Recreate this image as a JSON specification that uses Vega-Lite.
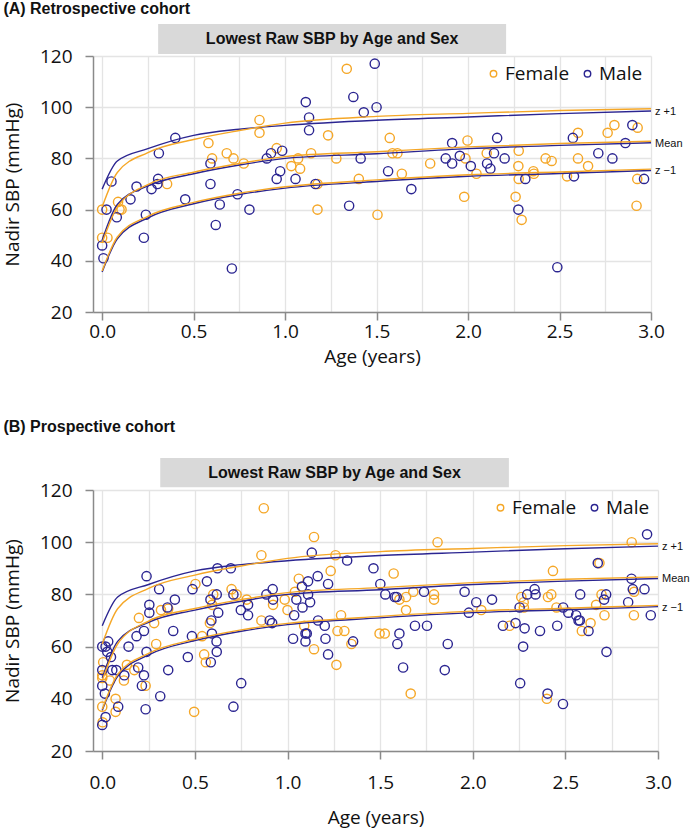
{
  "$schema": "https://vega.github.io/schema/vega-lite/v6.json",
  "background": "white",
  "padding": {"left": 3, "top": 1, "right": 0, "bottom": 8},
  "spacing": 52,
  "config": {
    "font": "Open Sans",
    "view": {"stroke": null},
    "axis": {"domainColor": "#8a8a8a", "domainWidth": 1.5, "tickColor": "#8a8a8a", "tickWidth": 1.5, "tickSize": 8, "labelFontSize": 19, "labelColor": "#111", "titleFontSize": 19, "titleFontWeight": "normal", "titleColor": "#111", "gridColor": "#e4e4e4", "gridWidth": 1.3, "labelFont": "Open Sans", "titleFont": "Open Sans"},
    "title": {"font": "Liberation Sans", "fontSize": 16, "fontWeight": "bold", "anchor": "start", "frame": "bounds", "color": "#111", "offset": 7},
    "legend": {"orient": "top-right", "direction": "horizontal", "labelFontSize": 19, "labelFont": "Open Sans", "labelColor": "#111", "symbolSize": 42, "symbolStrokeWidth": 1.4, "symbolType": "circle", "offset": 8, "columnPadding": 8, "labelOffset": 2, "padding": 0}
  },
  "resolve": {"legend": {"color": "independent"}},
  "datasets": {
    "one": [{}],
    "curves": [
      {"age": 0, "sbp": 68, "sex": "Male", "curve": "z +1"},
      {"age": 0.083, "sbp": 79, "sex": "Male", "curve": "z +1"},
      {"age": 0.25, "sbp": 83.8, "sex": "Male", "curve": "z +1"},
      {"age": 0.5, "sbp": 89, "sex": "Male", "curve": "z +1"},
      {"age": 0.75, "sbp": 91.4, "sex": "Male", "curve": "z +1"},
      {"age": 1, "sbp": 92.9, "sex": "Male", "curve": "z +1"},
      {"age": 1.5, "sbp": 94.9, "sex": "Male", "curve": "z +1"},
      {"age": 2, "sbp": 96.2, "sex": "Male", "curve": "z +1"},
      {"age": 2.5, "sbp": 97.5, "sex": "Male", "curve": "z +1"},
      {"age": 3, "sbp": 98.5, "sex": "Male", "curve": "z +1"},
      {"age": 0, "sbp": 61, "sex": "Female", "curve": "z +1"},
      {"age": 0.083, "sbp": 74.5, "sex": "Female", "curve": "z +1"},
      {"age": 0.25, "sbp": 82.3, "sex": "Female", "curve": "z +1"},
      {"age": 0.5, "sbp": 87.4, "sex": "Female", "curve": "z +1"},
      {"age": 0.75, "sbp": 90.9, "sex": "Female", "curve": "z +1"},
      {"age": 1, "sbp": 93.8, "sex": "Female", "curve": "z +1"},
      {"age": 1.5, "sbp": 96.4, "sex": "Female", "curve": "z +1"},
      {"age": 2, "sbp": 97.6, "sex": "Female", "curve": "z +1"},
      {"age": 2.5, "sbp": 98.7, "sex": "Female", "curve": "z +1"},
      {"age": 3, "sbp": 99.4, "sex": "Female", "curve": "z +1"},
      {"age": 0, "sbp": 48, "sex": "Male", "curve": "Mean"},
      {"age": 0.083, "sbp": 62, "sex": "Male", "curve": "Mean"},
      {"age": 0.25, "sbp": 69.3, "sex": "Male", "curve": "Mean"},
      {"age": 0.5, "sbp": 74, "sex": "Male", "curve": "Mean"},
      {"age": 0.75, "sbp": 77.4, "sex": "Male", "curve": "Mean"},
      {"age": 1, "sbp": 80, "sex": "Male", "curve": "Mean"},
      {"age": 1.5, "sbp": 81.8, "sex": "Male", "curve": "Mean"},
      {"age": 2, "sbp": 83.8, "sex": "Male", "curve": "Mean"},
      {"age": 2.5, "sbp": 85.1, "sex": "Male", "curve": "Mean"},
      {"age": 3, "sbp": 86.1, "sex": "Male", "curve": "Mean"},
      {"age": 0, "sbp": 47, "sex": "Female", "curve": "Mean"},
      {"age": 0.083, "sbp": 61, "sex": "Female", "curve": "Mean"},
      {"age": 0.25, "sbp": 69.8, "sex": "Female", "curve": "Mean"},
      {"age": 0.5, "sbp": 74.6, "sex": "Female", "curve": "Mean"},
      {"age": 0.75, "sbp": 78, "sex": "Female", "curve": "Mean"},
      {"age": 1, "sbp": 80.7, "sex": "Female", "curve": "Mean"},
      {"age": 1.5, "sbp": 82.6, "sex": "Female", "curve": "Mean"},
      {"age": 2, "sbp": 84.5, "sex": "Female", "curve": "Mean"},
      {"age": 2.5, "sbp": 85.8, "sex": "Female", "curve": "Mean"},
      {"age": 3, "sbp": 86.7, "sex": "Female", "curve": "Mean"},
      {"age": 0, "sbp": 35.6, "sex": "Male", "curve": "z −1"},
      {"age": 0.083, "sbp": 48.6, "sex": "Male", "curve": "z −1"},
      {"age": 0.25, "sbp": 56.8, "sex": "Male", "curve": "z −1"},
      {"age": 0.5, "sbp": 62.3, "sex": "Male", "curve": "z −1"},
      {"age": 0.75, "sbp": 65.9, "sex": "Male", "curve": "z −1"},
      {"age": 1, "sbp": 68.4, "sex": "Male", "curve": "z −1"},
      {"age": 1.5, "sbp": 71, "sex": "Male", "curve": "z −1"},
      {"age": 2, "sbp": 73, "sex": "Male", "curve": "z −1"},
      {"age": 2.5, "sbp": 74.1, "sex": "Male", "curve": "z −1"},
      {"age": 3, "sbp": 75.3, "sex": "Male", "curve": "z −1"},
      {"age": 0, "sbp": 36, "sex": "Female", "curve": "z −1"},
      {"age": 0.083, "sbp": 49.3, "sex": "Female", "curve": "z −1"},
      {"age": 0.25, "sbp": 57.4, "sex": "Female", "curve": "z −1"},
      {"age": 0.5, "sbp": 62.8, "sex": "Female", "curve": "z −1"},
      {"age": 0.75, "sbp": 66.4, "sex": "Female", "curve": "z −1"},
      {"age": 1, "sbp": 68.9, "sex": "Female", "curve": "z −1"},
      {"age": 1.5, "sbp": 71.6, "sex": "Female", "curve": "z −1"},
      {"age": 2, "sbp": 73.6, "sex": "Female", "curve": "z −1"},
      {"age": 2.5, "sbp": 74.7, "sex": "Female", "curve": "z −1"},
      {"age": 3, "sbp": 75.8, "sex": "Female", "curve": "z −1"}
    ],
    "ptsA": [
      {"age": 0, "sbp": 60, "sex": "Female"}, {"age": 0, "sbp": 49, "sex": "Female"}, {"age": 0.029, "sbp": 49, "sex": "Female"}, {"age": 0.087, "sbp": 63, "sex": "Female"}, {"age": 0.095, "sbp": 60, "sex": "Female"}, {"age": 0.106, "sbp": 60, "sex": "Female"}, {"age": 0.355, "sbp": 70, "sex": "Female"}, {"age": 0.581, "sbp": 86, "sex": "Female"}, {"age": 0.601, "sbp": 80, "sex": "Female"}, {"age": 0.681, "sbp": 82, "sex": "Female"}, {"age": 0.718, "sbp": 80, "sex": "Female"}, {"age": 0.774, "sbp": 78, "sex": "Female"}, {"age": 0.86, "sbp": 95, "sex": "Female"}, {"age": 0.86, "sbp": 90, "sex": "Female"}, {"age": 0.954, "sbp": 84, "sex": "Female"}, {"age": 1.034, "sbp": 77, "sex": "Female"}, {"age": 1.071, "sbp": 80, "sex": "Female"}, {"age": 1.082, "sbp": 76, "sex": "Female"}, {"age": 1.142, "sbp": 82, "sex": "Female"}, {"age": 1.177, "sbp": 70, "sex": "Female"}, {"age": 1.177, "sbp": 60, "sex": "Female"}, {"age": 1.235, "sbp": 89, "sex": "Female"}, {"age": 1.28, "sbp": 80, "sex": "Female"}, {"age": 1.337, "sbp": 115, "sex": "Female"}, {"age": 1.403, "sbp": 72, "sex": "Female"}, {"age": 1.505, "sbp": 58, "sex": "Female"}, {"age": 1.572, "sbp": 88, "sex": "Female"}, {"age": 1.587, "sbp": 82, "sex": "Female"}, {"age": 1.614, "sbp": 82, "sex": "Female"}, {"age": 1.638, "sbp": 74, "sex": "Female"}, {"age": 1.793, "sbp": 78, "sex": "Female"}, {"age": 1.979, "sbp": 65, "sex": "Female"}, {"age": 1.986, "sbp": 80, "sex": "Female"}, {"age": 1.997, "sbp": 87, "sex": "Female"}, {"age": 2.046, "sbp": 74, "sex": "Female"}, {"age": 2.102, "sbp": 82, "sex": "Female"}, {"age": 2.26, "sbp": 65, "sex": "Female"}, {"age": 2.277, "sbp": 83, "sex": "Female"}, {"age": 2.275, "sbp": 77, "sex": "Female"}, {"age": 2.277, "sbp": 72, "sex": "Female"}, {"age": 2.293, "sbp": 56, "sex": "Female"}, {"age": 2.357, "sbp": 75, "sex": "Female"}, {"age": 2.36, "sbp": 74, "sex": "Female"}, {"age": 2.424, "sbp": 80, "sex": "Female"}, {"age": 2.457, "sbp": 79, "sex": "Female"}, {"age": 2.541, "sbp": 73, "sex": "Female"}, {"age": 2.601, "sbp": 90, "sex": "Female"}, {"age": 2.601, "sbp": 80, "sex": "Female"}, {"age": 2.656, "sbp": 77, "sex": "Female"}, {"age": 2.763, "sbp": 90, "sex": "Female"}, {"age": 2.8, "sbp": 93, "sex": "Female"}, {"age": 2.927, "sbp": 92, "sex": "Female"}, {"age": 2.925, "sbp": 72, "sex": "Female"}, {"age": 2.921, "sbp": 61.5, "sex": "Female"},
      {"age": 0.051, "sbp": 71, "sex": "Male"}, {"age": 0.024, "sbp": 60, "sex": "Male"}, {"age": 0, "sbp": 46, "sex": "Male"}, {"age": 0.007, "sbp": 41, "sex": "Male"}, {"age": 0.08, "sbp": 57, "sex": "Male"}, {"age": 0.155, "sbp": 64, "sex": "Male"}, {"age": 0.188, "sbp": 69, "sex": "Male"}, {"age": 0.239, "sbp": 58, "sex": "Male"}, {"age": 0.228, "sbp": 49, "sex": "Male"}, {"age": 0.27, "sbp": 68, "sex": "Male"}, {"age": 0.302, "sbp": 70, "sex": "Male"}, {"age": 0.306, "sbp": 72, "sex": "Male"}, {"age": 0.31, "sbp": 82, "sex": "Male"}, {"age": 0.4, "sbp": 88, "sex": "Male"}, {"age": 0.454, "sbp": 64, "sex": "Male"}, {"age": 0.592, "sbp": 78, "sex": "Male"}, {"age": 0.592, "sbp": 70, "sex": "Male"}, {"age": 0.621, "sbp": 54, "sex": "Male"}, {"age": 0.643, "sbp": 62, "sex": "Male"}, {"age": 0.709, "sbp": 37, "sex": "Male"}, {"age": 0.74, "sbp": 66, "sex": "Male"}, {"age": 0.805, "sbp": 60, "sex": "Male"}, {"age": 0.9, "sbp": 80, "sex": "Male"}, {"age": 0.923, "sbp": 82, "sex": "Male"}, {"age": 0.954, "sbp": 72, "sex": "Male"}, {"age": 0.973, "sbp": 75, "sex": "Male"}, {"age": 0.984, "sbp": 83, "sex": "Male"}, {"age": 1.113, "sbp": 102, "sex": "Male"}, {"age": 1.131, "sbp": 96, "sex": "Male"}, {"age": 1.131, "sbp": 91, "sex": "Male"}, {"age": 1.057, "sbp": 72, "sex": "Male"}, {"age": 1.166, "sbp": 70, "sex": "Male"}, {"age": 1.35, "sbp": 61.5, "sex": "Male"}, {"age": 1.373, "sbp": 104, "sex": "Male"}, {"age": 1.413, "sbp": 80, "sex": "Male"}, {"age": 1.43, "sbp": 98, "sex": "Male"}, {"age": 1.49, "sbp": 117, "sex": "Male"}, {"age": 1.5, "sbp": 100, "sex": "Male"}, {"age": 1.563, "sbp": 75, "sex": "Male"}, {"age": 1.69, "sbp": 68, "sex": "Male"}, {"age": 1.878, "sbp": 80, "sex": "Male"}, {"age": 1.913, "sbp": 86, "sex": "Male"}, {"age": 1.913, "sbp": 78, "sex": "Male"}, {"age": 1.955, "sbp": 81, "sex": "Male"}, {"age": 2.015, "sbp": 77, "sex": "Male"}, {"age": 2.104, "sbp": 78, "sex": "Male"}, {"age": 2.122, "sbp": 76, "sex": "Male"}, {"age": 2.142, "sbp": 82, "sex": "Male"}, {"age": 2.159, "sbp": 88, "sex": "Male"}, {"age": 2.2, "sbp": 80, "sex": "Male"}, {"age": 2.275, "sbp": 60, "sex": "Male"}, {"age": 2.313, "sbp": 72, "sex": "Male"}, {"age": 2.488, "sbp": 37.5, "sex": "Male"}, {"age": 2.573, "sbp": 88, "sex": "Male"}, {"age": 2.579, "sbp": 73, "sex": "Male"}, {"age": 2.712, "sbp": 82, "sex": "Male"}, {"age": 2.789, "sbp": 80, "sex": "Male"}, {"age": 2.86, "sbp": 86, "sex": "Male"}, {"age": 2.898, "sbp": 93, "sex": "Male"}, {"age": 2.962, "sbp": 72, "sex": "Male"}
    ],
    "ptsB": [
      {"age": 0.002, "sbp": 31, "sex": "Female"}, {"age": 0, "sbp": 37, "sex": "Female"}, {"age": 0, "sbp": 48, "sex": "Female"}, {"age": 0, "sbp": 49, "sex": "Female"}, {"age": 0.005, "sbp": 54, "sex": "Female"}, {"age": 0.041, "sbp": 47, "sex": "Female"}, {"age": 0.072, "sbp": 40, "sex": "Female"}, {"age": 0.072, "sbp": 35, "sex": "Female"}, {"age": 0.117, "sbp": 47, "sex": "Female"}, {"age": 0.133, "sbp": 53, "sex": "Female"}, {"age": 0.173, "sbp": 51, "sex": "Female"}, {"age": 0.198, "sbp": 71, "sex": "Female"}, {"age": 0.234, "sbp": 45, "sex": "Female"}, {"age": 0.28, "sbp": 69, "sex": "Female"}, {"age": 0.291, "sbp": 61, "sex": "Female"}, {"age": 0.317, "sbp": 74, "sex": "Female"}, {"age": 0.356, "sbp": 74.5, "sex": "Female"}, {"age": 0.496, "sbp": 35, "sex": "Female"}, {"age": 0.503, "sbp": 84, "sex": "Female"}, {"age": 0.539, "sbp": 64, "sex": "Female"}, {"age": 0.55, "sbp": 57, "sex": "Female"}, {"age": 0.559, "sbp": 54, "sex": "Female"}, {"age": 0.581, "sbp": 69, "sex": "Female"}, {"age": 0.593, "sbp": 76, "sex": "Female"}, {"age": 0.599, "sbp": 80, "sex": "Female"}, {"age": 0.698, "sbp": 82, "sex": "Female"}, {"age": 0.725, "sbp": 80, "sex": "Female"}, {"age": 0.78, "sbp": 78, "sex": "Female"}, {"age": 0.859, "sbp": 95, "sex": "Female"}, {"age": 0.872, "sbp": 113, "sex": "Female"}, {"age": 0.859, "sbp": 70, "sex": "Female"}, {"age": 0.922, "sbp": 76, "sex": "Female"}, {"age": 0.985, "sbp": 78, "sex": "Female"}, {"age": 1.0, "sbp": 74, "sex": "Female"}, {"age": 1.04, "sbp": 81, "sex": "Female"}, {"age": 1.061, "sbp": 86, "sex": "Female"}, {"age": 1.09, "sbp": 68, "sex": "Female"}, {"age": 1.143, "sbp": 102, "sex": "Female"}, {"age": 1.143, "sbp": 59, "sex": "Female"}, {"age": 1.233, "sbp": 89, "sex": "Female"}, {"age": 1.259, "sbp": 95, "sex": "Female"}, {"age": 1.27, "sbp": 66, "sex": "Female"}, {"age": 1.289, "sbp": 72, "sex": "Female"}, {"age": 1.307, "sbp": 66, "sex": "Female"}, {"age": 1.264, "sbp": 53, "sex": "Female"}, {"age": 1.345, "sbp": 61, "sex": "Female"}, {"age": 1.497, "sbp": 65, "sex": "Female"}, {"age": 1.525, "sbp": 65, "sex": "Female"}, {"age": 1.573, "sbp": 88, "sex": "Female"}, {"age": 1.604, "sbp": 78, "sex": "Female"}, {"age": 1.64, "sbp": 79, "sex": "Female"}, {"age": 1.64, "sbp": 74, "sex": "Female"}, {"age": 1.665, "sbp": 42, "sex": "Female"}, {"age": 1.679, "sbp": 81, "sex": "Female"}, {"age": 1.791, "sbp": 80, "sex": "Female"}, {"age": 1.791, "sbp": 78, "sex": "Female"}, {"age": 1.81, "sbp": 100, "sex": "Female"}, {"age": 2.046, "sbp": 74, "sex": "Female"}, {"age": 2.199, "sbp": 68, "sex": "Female"}, {"age": 2.262, "sbp": 79, "sex": "Female"}, {"age": 2.275, "sbp": 77, "sex": "Female"}, {"age": 2.276, "sbp": 75, "sex": "Female"}, {"age": 2.406, "sbp": 79, "sex": "Female"}, {"age": 2.424, "sbp": 80, "sex": "Female"}, {"age": 2.433, "sbp": 89, "sex": "Female"}, {"age": 2.4, "sbp": 40, "sex": "Female"}, {"age": 2.452, "sbp": 75, "sex": "Female"}, {"age": 2.589, "sbp": 66, "sex": "Female"}, {"age": 2.636, "sbp": 69, "sex": "Female"}, {"age": 2.666, "sbp": 76, "sex": "Female"}, {"age": 2.684, "sbp": 92, "sex": "Female"}, {"age": 2.695, "sbp": 80, "sex": "Female"}, {"age": 2.711, "sbp": 72, "sex": "Female"}, {"age": 2.858, "sbp": 100, "sex": "Female"}, {"age": 2.871, "sbp": 81, "sex": "Female"}, {"age": 2.87, "sbp": 72, "sex": "Female"},
      {"age": 0, "sbp": 30, "sex": "Male"}, {"age": 0.018, "sbp": 33, "sex": "Male"}, {"age": 0.014, "sbp": 42, "sex": "Male"}, {"age": 0, "sbp": 45, "sex": "Male"}, {"age": 0, "sbp": 51, "sex": "Male"}, {"age": 0, "sbp": 60, "sex": "Male"}, {"age": 0.018, "sbp": 60, "sex": "Male"}, {"age": 0.032, "sbp": 62, "sex": "Male"}, {"age": 0.027, "sbp": 58, "sex": "Male"}, {"age": 0.047, "sbp": 56, "sex": "Male"}, {"age": 0.054, "sbp": 51, "sex": "Male"}, {"age": 0.076, "sbp": 51, "sex": "Male"}, {"age": 0.086, "sbp": 37, "sex": "Male"}, {"age": 0.119, "sbp": 49, "sex": "Male"}, {"age": 0.142, "sbp": 60, "sex": "Male"}, {"age": 0.185, "sbp": 64, "sex": "Male"}, {"age": 0.194, "sbp": 52, "sex": "Male"}, {"age": 0.225, "sbp": 66, "sex": "Male"}, {"age": 0.225, "sbp": 49, "sex": "Male"}, {"age": 0.214, "sbp": 45, "sex": "Male"}, {"age": 0.234, "sbp": 36, "sex": "Male"}, {"age": 0.239, "sbp": 87, "sex": "Male"}, {"age": 0.239, "sbp": 58, "sex": "Male"}, {"age": 0.254, "sbp": 76, "sex": "Male"}, {"age": 0.254, "sbp": 73, "sex": "Male"}, {"age": 0.307, "sbp": 82, "sex": "Male"}, {"age": 0.313, "sbp": 41, "sex": "Male"}, {"age": 0.352, "sbp": 75, "sex": "Male"}, {"age": 0.356, "sbp": 51, "sex": "Male"}, {"age": 0.383, "sbp": 66, "sex": "Male"}, {"age": 0.392, "sbp": 78, "sex": "Male"}, {"age": 0.462, "sbp": 56, "sex": "Male"}, {"age": 0.484, "sbp": 64, "sex": "Male"}, {"age": 0.487, "sbp": 82, "sex": "Male"}, {"age": 0.565, "sbp": 85, "sex": "Male"}, {"age": 0.584, "sbp": 78, "sex": "Male"}, {"age": 0.589, "sbp": 70, "sex": "Male"}, {"age": 0.586, "sbp": 54, "sex": "Male"}, {"age": 0.592, "sbp": 65, "sex": "Male"}, {"age": 0.618, "sbp": 80, "sex": "Male"}, {"age": 0.626, "sbp": 73, "sex": "Male"}, {"age": 0.618, "sbp": 58, "sex": "Male"}, {"age": 0.617, "sbp": 62, "sex": "Male"}, {"age": 0.622, "sbp": 90, "sex": "Male"}, {"age": 0.694, "sbp": 90, "sex": "Male"}, {"age": 0.708, "sbp": 80, "sex": "Male"}, {"age": 0.708, "sbp": 37, "sex": "Male"}, {"age": 0.748, "sbp": 74, "sex": "Male"}, {"age": 0.75, "sbp": 46, "sex": "Male"}, {"age": 0.787, "sbp": 76, "sex": "Male"}, {"age": 0.787, "sbp": 72, "sex": "Male"}, {"age": 0.886, "sbp": 80, "sex": "Male"}, {"age": 0.904, "sbp": 70, "sex": "Male"}, {"age": 0.917, "sbp": 69, "sex": "Male"}, {"age": 0.92, "sbp": 82, "sex": "Male"}, {"age": 0.922, "sbp": 78, "sex": "Male"}, {"age": 1.03, "sbp": 63, "sex": "Male"}, {"age": 1.036, "sbp": 72, "sex": "Male"}, {"age": 1.048, "sbp": 78, "sex": "Male"}, {"age": 1.078, "sbp": 83, "sex": "Male"}, {"age": 1.081, "sbp": 75, "sex": "Male"}, {"age": 1.097, "sbp": 65, "sex": "Male"}, {"age": 1.104, "sbp": 65, "sex": "Male"}, {"age": 1.097, "sbp": 62, "sex": "Male"}, {"age": 1.111, "sbp": 85, "sex": "Male"}, {"age": 1.111, "sbp": 80, "sex": "Male"}, {"age": 1.122, "sbp": 77, "sex": "Male"}, {"age": 1.131, "sbp": 96, "sex": "Male"}, {"age": 1.163, "sbp": 87, "sex": "Male"}, {"age": 1.165, "sbp": 70, "sex": "Male"}, {"age": 1.201, "sbp": 68, "sex": "Male"}, {"age": 1.205, "sbp": 63, "sex": "Male"}, {"age": 1.219, "sbp": 84, "sex": "Male"}, {"age": 1.219, "sbp": 57, "sex": "Male"}, {"age": 1.322, "sbp": 93, "sex": "Male"}, {"age": 1.354, "sbp": 62, "sex": "Male"}, {"age": 1.464, "sbp": 90, "sex": "Male"}, {"age": 1.501, "sbp": 84, "sex": "Male"}, {"age": 1.528, "sbp": 80, "sex": "Male"}, {"age": 1.579, "sbp": 79, "sex": "Male"}, {"age": 1.589, "sbp": 79, "sex": "Male"}, {"age": 1.604, "sbp": 65, "sex": "Male"}, {"age": 1.593, "sbp": 61, "sex": "Male"}, {"age": 1.624, "sbp": 52, "sex": "Male"}, {"age": 1.688, "sbp": 68, "sex": "Male"}, {"age": 1.737, "sbp": 81, "sex": "Male"}, {"age": 1.753, "sbp": 68, "sex": "Male"}, {"age": 1.865, "sbp": 61, "sex": "Male"}, {"age": 1.849, "sbp": 51, "sex": "Male"}, {"age": 1.956, "sbp": 81, "sex": "Male"}, {"age": 1.979, "sbp": 73, "sex": "Male"}, {"age": 2.019, "sbp": 77, "sex": "Male"}, {"age": 2.104, "sbp": 78, "sex": "Male"}, {"age": 2.163, "sbp": 68, "sex": "Male"}, {"age": 2.231, "sbp": 69, "sex": "Male"}, {"age": 2.253, "sbp": 75, "sex": "Male"}, {"age": 2.256, "sbp": 46, "sex": "Male"}, {"age": 2.272, "sbp": 60, "sex": "Male"}, {"age": 2.28, "sbp": 67, "sex": "Male"}, {"age": 2.294, "sbp": 80, "sex": "Male"}, {"age": 2.334, "sbp": 82, "sex": "Male"}, {"age": 2.339, "sbp": 80, "sex": "Male"}, {"age": 2.363, "sbp": 66, "sex": "Male"}, {"age": 2.404, "sbp": 42, "sex": "Male"}, {"age": 2.456, "sbp": 68, "sex": "Male"}, {"age": 2.487, "sbp": 38, "sex": "Male"}, {"age": 2.488, "sbp": 75, "sex": "Male"}, {"age": 2.516, "sbp": 73, "sex": "Male"}, {"age": 2.558, "sbp": 72, "sex": "Male"}, {"age": 2.571, "sbp": 70, "sex": "Male"}, {"age": 2.578, "sbp": 70, "sex": "Male"}, {"age": 2.58, "sbp": 80, "sex": "Male"}, {"age": 2.625, "sbp": 66, "sex": "Male"}, {"age": 2.675, "sbp": 92, "sex": "Male"}, {"age": 2.709, "sbp": 78, "sex": "Male"}, {"age": 2.72, "sbp": 80, "sex": "Male"}, {"age": 2.722, "sbp": 58, "sex": "Male"}, {"age": 2.839, "sbp": 77, "sex": "Male"}, {"age": 2.857, "sbp": 86, "sex": "Male"}, {"age": 2.864, "sbp": 82, "sex": "Male"}, {"age": 2.927, "sbp": 82, "sex": "Male"}, {"age": 2.941, "sbp": 103, "sex": "Male"}, {"age": 2.961, "sbp": 72, "sex": "Male"}
    ]
  },
  "vconcat": [
    {
      "title": {"text": "(A) Retrospective cohort"},
      "width": 558,
      "height": 256,
      "layer": [
        {
          "data": {"name": "ptsA"},
          "mark": {"type": "point", "shape": "circle", "filled": false, "size": 85, "strokeWidth": 1.4, "opacity": 1},
          "encoding": {
            "x": {"field": "age", "type": "quantitative", "scale": {"domain": [-0.05, 3], "nice": false, "zero": false},
              "axis": {"title": "Age (years)", "values": [0, 0.25, 0.5, 0.75, 1, 1.25, 1.5, 1.75, 2, 2.25, 2.5, 2.75, 3], "format": ".1f", "labelExpr": "datum.value % 0.5 === 0 ? datum.label : ''", "tickOpacity": {"condition": {"test": "datum.value % 0.5 === 0", "value": 1}, "value": 0}, "labelPadding": 2, "titlePadding": 6, "labelFlush": false}},
            "y": {"field": "sbp", "type": "quantitative", "scale": {"domain": [20, 120], "nice": false},
              "axis": {"title": "Nadir SBP (mmHg)", "values": [20, 30, 40, 50, 60, 70, 80, 90, 100, 110, 120], "labelExpr": "datum.value % 20 === 0 ? datum.label : ''", "tickOpacity": {"condition": {"test": "datum.value % 20 === 0", "value": 1}, "value": 0}, "labelPadding": 13, "titlePadding": 17, "labelFlush": false}},
            "color": {"field": "sex", "type": "nominal", "scale": {"domain": ["Female", "Male"], "range": ["#F5A727", "#2B2591"]}, "legend": {"title": null}}
          }
        },
        {
          "data": {"name": "one"},
          "mark": {"type": "rect", "fill": "#d9d9d9"},
          "encoding": {
            "x": {"datum": 0.306, "type": "quantitative"},
            "x2": {"datum": 2.208},
            "y": {"datum": 132.5, "type": "quantitative"},
            "y2": {"datum": 120.8}
          }
        },
        {
          "data": {"name": "one"},
          "mark": {"type": "text", "text": "Lowest Raw SBP by Age and Sex", "font": "Liberation Sans", "fontWeight": "bold", "fontSize": 16, "color": "#111", "baseline": "middle", "align": "center"},
          "encoding": {
            "x": {"datum": 1.257, "type": "quantitative"},
            "y": {"datum": 126.6, "type": "quantitative"}
          }
        },
        {
          "data": {"name": "curves"},
          "mark": {"type": "line", "strokeWidth": 1.4, "interpolate": "monotone"},
          "encoding": {
            "x": {"field": "age", "type": "quantitative"},
            "y": {"field": "sbp", "type": "quantitative"},
            "color": {"field": "sex", "type": "nominal", "legend": null},
            "detail": {"field": "curve"}
          }
        },
        {
          "data": {"name": "curves"},
          "transform": [{"filter": "datum.age === 3 && datum.sex === 'Male'"}],
          "mark": {"type": "text", "align": "left", "baseline": "middle", "dx": 4, "dy": 1, "font": "Liberation Sans", "fontSize": 11, "color": "#111"},
          "encoding": {
            "x": {"field": "age", "type": "quantitative"},
            "y": {"field": "sbp", "type": "quantitative"},
            "text": {"field": "curve"}
          }
        }
      ]
    },
    {
      "title": {"text": "(B)   Prospective cohort", "offset": 23},
      "width": 565,
      "height": 261,
      "layer": [
        {
          "data": {"name": "ptsB"},
          "mark": {"type": "point", "shape": "circle", "filled": false, "size": 85, "strokeWidth": 1.4, "opacity": 1},
          "encoding": {
            "x": {"field": "age", "type": "quantitative", "scale": {"domain": [-0.05, 3], "nice": false, "zero": false},
              "axis": {"title": "Age (years)", "values": [0, 0.25, 0.5, 0.75, 1, 1.25, 1.5, 1.75, 2, 2.25, 2.5, 2.75, 3], "format": ".1f", "labelExpr": "datum.value % 0.5 === 0 ? datum.label : ''", "tickOpacity": {"condition": {"test": "datum.value % 0.5 === 0", "value": 1}, "value": 0}, "labelPadding": 14, "titlePadding": 16, "labelFlush": false}},
            "y": {"field": "sbp", "type": "quantitative", "scale": {"domain": [20, 120], "nice": false},
              "axis": {"title": "Nadir SBP (mmHg)", "values": [20, 30, 40, 50, 60, 70, 80, 90, 100, 110, 120], "labelExpr": "datum.value % 20 === 0 ? datum.label : ''", "tickOpacity": {"condition": {"test": "datum.value % 20 === 0", "value": 1}, "value": 0}, "labelPadding": 13, "titlePadding": 17, "labelFlush": false}},
            "color": {"field": "sex", "type": "nominal", "scale": {"domain": ["Female", "Male"], "range": ["#F5A727", "#2B2591"]}, "legend": {"title": null}}
          }
        },
        {
          "data": {"name": "one"},
          "mark": {"type": "rect", "fill": "#d9d9d9"},
          "encoding": {
            "x": {"datum": 0.313, "type": "quantitative"},
            "x2": {"datum": 2.195},
            "y": {"datum": 132.3, "type": "quantitative"},
            "y2": {"datum": 121.1}
          }
        },
        {
          "data": {"name": "one"},
          "mark": {"type": "text", "text": "Lowest Raw SBP by Age and Sex", "font": "Liberation Sans", "fontWeight": "bold", "fontSize": 16, "color": "#111", "baseline": "middle", "align": "center"},
          "encoding": {
            "x": {"datum": 1.254, "type": "quantitative"},
            "y": {"datum": 126.7, "type": "quantitative"}
          }
        },
        {
          "data": {"name": "curves"},
          "mark": {"type": "line", "strokeWidth": 1.4, "interpolate": "monotone"},
          "encoding": {
            "x": {"field": "age", "type": "quantitative"},
            "y": {"field": "sbp", "type": "quantitative"},
            "color": {"field": "sex", "type": "nominal", "legend": null},
            "detail": {"field": "curve"}
          }
        },
        {
          "data": {"name": "curves"},
          "transform": [{"filter": "datum.age === 3 && datum.sex === 'Male'"}],
          "mark": {"type": "text", "align": "left", "baseline": "middle", "dx": 4, "dy": 1, "font": "Liberation Sans", "fontSize": 11, "color": "#111"},
          "encoding": {
            "x": {"field": "age", "type": "quantitative"},
            "y": {"field": "sbp", "type": "quantitative"},
            "text": {"field": "curve"}
          }
        }
      ]
    }
  ]
}
